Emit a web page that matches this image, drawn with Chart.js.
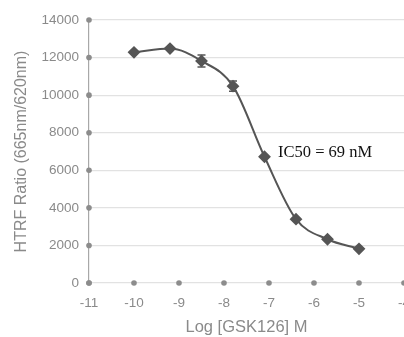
<!DOCTYPE html>
<html>
<head>
<meta charset="utf-8">
<script src="https://cdn.jsdelivr.net/npm/chart.js@4"></script>
<style>
  html, body { margin: 0; padding: 0; background: #fff; overflow: hidden; }
  /* a little wider than the window so the -4 end of the axis sits on the edge */
  #wrap { width: 411px; height: 337px; }
</style>
</head>
<body>
<div id="wrap"><canvas id="doseChart"></canvas></div>
<script>
// Log concentration (M) and HTRF ratio readings
const logConc = [-10, -9.2, -8.5, -7.8, -7.1, -6.4, -5.7, -5.0];
const htrf    = [12280, 12480, 11820, 10480, 6720, 3400, 2330, 1820];
// Error (± SD) per point, 0 where no bar is visible
const htrfErr = [0, 0, 320, 270, 0, 0, 0, 0];

const xTicks = [-11, -10, -9, -8, -7, -6, -5, -4];
const yTicks = [0, 2000, 4000, 6000, 8000, 10000, 12000, 14000];

const ic50Label = 'IC50 = 69 nM';

const gray = '#555555';
const textGray = '#8a8a8a';
const sans = '"Liberation Sans", Arial, sans-serif';

// dots on the axes at every tick
const axisDots = {
  id: 'axisDots',
  afterDraw(chart) {
    const { ctx, scales: { x, y } } = chart;
    ctx.save();
    ctx.fillStyle = '#8c8c8c';
    yTicks.forEach(v => {
      ctx.beginPath();
      ctx.arc(x.getPixelForValue(xTicks[0]), y.getPixelForValue(v), 2.8, 0, Math.PI * 2);
      ctx.fill();
    });
    xTicks.forEach(v => {
      ctx.beginPath();
      ctx.arc(x.getPixelForValue(v), y.getPixelForValue(0), 2.8, 0, Math.PI * 2);
      ctx.fill();
    });
    ctx.restore();
  }
};

// vertical error bars with caps
const errorBars = {
  id: 'errorBars',
  afterDatasetsDraw(chart) {
    const { ctx, scales: { x, y } } = chart;
    ctx.save();
    ctx.strokeStyle = gray;
    ctx.lineWidth = 1.5;
    logConc.forEach((c, i) => {
      const e = htrfErr[i];
      if (!e) return;
      const px = x.getPixelForValue(c);
      const top = y.getPixelForValue(htrf[i] + e);
      const bot = y.getPixelForValue(htrf[i] - e);
      ctx.beginPath();
      ctx.moveTo(px, top); ctx.lineTo(px, bot);
      ctx.moveTo(px - 4, top); ctx.lineTo(px + 4, top);
      ctx.moveTo(px - 4, bot); ctx.lineTo(px + 4, bot);
      ctx.stroke();
    });
    ctx.restore();
  }
};

// IC50 note beside the steep part of the curve
const ic50Note = {
  id: 'ic50Note',
  afterDraw(chart) {
    const { ctx, scales: { x, y } } = chart;
    ctx.save();
    ctx.fillStyle = '#111';
    ctx.font = '16.5px "Liberation Serif", "Times New Roman", serif';
    ctx.textBaseline = 'alphabetic';
    ctx.fillText(ic50Label, x.getPixelForValue(-6.8), y.getPixelForValue(6700));
    ctx.restore();
  }
};

new Chart(document.getElementById('doseChart'), {
  type: 'scatter',
  data: {
    datasets: [{
      data: logConc.map((c, i) => ({ x: c, y: htrf[i] })),
      showLine: true,
      borderColor: gray,
      borderWidth: 2,
      cubicInterpolationMode: 'monotone',
      pointStyle: 'rectRot',
      pointRadius: 5,
      pointBackgroundColor: gray,
      pointBorderColor: gray
    }]
  },
  options: {
    responsive: true,
    maintainAspectRatio: false,
    animation: false,
    layout: { padding: { top: 20, left: 0, right: 0, bottom: 0 } },
    plugins: { legend: { display: false }, tooltip: { enabled: false } },
    scales: {
      x: {
        type: 'linear',
        min: -11, max: -4,
        afterBuildTicks: s => { s.ticks = xTicks.map(v => ({ value: v })); },
        afterFit: s => { s.height = 54; s.paddingRight = 0; s.paddingLeft = 0; },
        grid: { display: false, drawTicks: false },
        border: { display: false },
        ticks: { color: textGray, font: { family: sans, size: 13.5 }, padding: 12, maxRotation: 0 },
        title: { display: true, text: 'Log [GSK126] M', color: textGray, font: { family: sans, size: 16.5 }, padding: { top: 1, bottom: 0 } }
      },
      y: {
        min: 0, max: 14000,
        afterBuildTicks: s => { s.ticks = yTicks.map(v => ({ value: v })); },
        afterFit: s => { s.width = 89; s.paddingTop = 0; s.paddingBottom = 0; },
        grid: { color: '#e2e2e2', lineWidth: 1.2, drawTicks: false },
        border: { display: true, color: '#a8a8a8', width: 1.2 },
        ticks: { color: textGray, font: { family: sans, size: 13.5 }, padding: 10, callback: v => String(v) },
        title: { display: true, text: 'HTRF Ratio (665nm/620nm)', color: textGray, font: { family: sans, size: 16 }, padding: { top: 12, bottom: 6 } }
      }
    }
  },
  plugins: [errorBars, axisDots, ic50Note]
});
</script>
</body>
</html>
